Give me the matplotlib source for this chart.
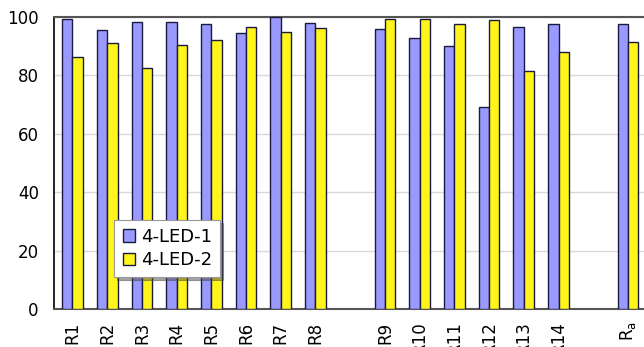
import numpy as np
import matplotlib
matplotlib.use("Agg")
import matplotlib.pyplot as plt

# Category labels, with empty slots separating the groups
labels = ["R1", "R2", "R3", "R4", "R5", "R6", "R7", "R8", "",
          "R9", "R10", "R11", "R12", "R13", "R14", "", r"R$_\mathregular{a}$"]

led1 = [99.2, 95.7, 98.2, 98.2, 97.6, 94.6, 100.0, 97.9, np.nan,
        95.8, 92.7, 90.2, 69.1, 96.7, 97.7, np.nan, 97.5]
led2 = [86.3, 91.2, 82.6, 90.5, 92.2, 96.6, 94.9, 96.3, np.nan,
        99.4, 99.4, 97.7, 99.1, 81.6, 88.0, np.nan, 91.3]

x = np.arange(len(labels))
w = 0.3

fig = plt.figure(figsize=(6.44, 3.47), dpi=100)
ax = fig.add_axes([0.084, 0.1095, 0.918, 0.8415])

ax.bar(x - w / 2, led1, w, color="#9999FF", edgecolor="#1a1a40", linewidth=1.0,
       label="4-LED-1", zorder=3)
ax.bar(x + w / 2, led2, w, color="#FFF51A", edgecolor="#1a1a40", linewidth=1.0,
       label="4-LED-2", zorder=3)

ax.set_ylim(0, 100)
ax.set_xlim(-0.53, 16.5)
ax.set_yticks([0, 20, 40, 60, 80, 100])
ax.set_xticks(x)
ax.set_xticklabels(labels, rotation=90, fontsize=12)
ax.tick_params(axis="y", labelsize=12, length=0, pad=11)
ax.tick_params(axis="x", length=0, pad=9)
ax.yaxis.grid(True, color="#d9d9d9", linewidth=1.0, zorder=0)

for side in ["top", "bottom"]:
    ax.spines[side].set_color("#555555")
    ax.spines[side].set_linewidth(1.5)
ax.spines["left"].set_color("black")
ax.spines["left"].set_linewidth(1.2)
ax.spines["right"].set_visible(False)

leg = ax.legend(loc="lower left", bbox_to_anchor=(0.102, 0.108), fontsize=13,
                frameon=True, fancybox=False, shadow=True, edgecolor="#999999",
                handlelength=0.7, handleheight=0.7, handletextpad=0.3,
                borderpad=0.45, labelspacing=0.3, borderaxespad=0)
leg.get_frame().set_linewidth(0.8)
for h in leg.legend_handles:
    h.set_linewidth(1.0)

fig.savefig("out.png", dpi=100)
